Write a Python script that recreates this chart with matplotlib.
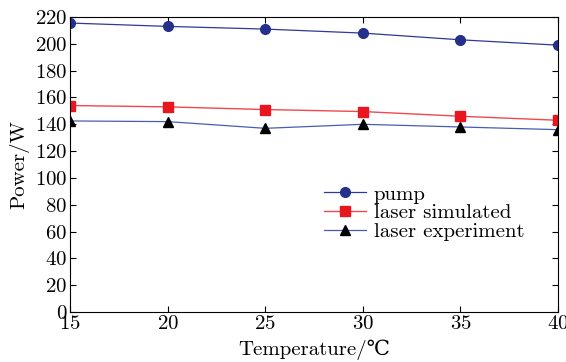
import matplotlib.pyplot as plt

# Data
temperature = [15, 20, 25, 30, 35, 40]
pump = [215.5, 213, 211, 208, 203, 199]
laser_sim = [154, 153, 151, 149.5, 146, 143]
laser_exp = [142.5, 142, 137, 140, 138, 136]

plt.rcParams['font.family'] = ['cmr10', 'DejaVu Serif']
plt.rcParams['axes.formatter.use_mathtext'] = True
plt.rcParams['mathtext.fontset'] = 'cm'

fig = plt.figure(figsize=(5.66, 3.62), dpi=100)
ax = fig.add_axes([0.124, 0.138, 0.862, 0.815])

ax.plot(temperature, pump, color='#2e3a96', lw=0.9, marker='o', ms=7,
        mfc='#25308a', mec='#25308a', label='pump')
ax.plot(temperature, laser_sim, color='#f0484e', lw=1.0, marker='s', ms=7,
        mfc='#e8161f', mec='#e8161f', label='laser simulated')
ax.plot(temperature, laser_exp, color='#4a5cb0', lw=0.9, marker='^', ms=7.5,
        mfc='black', mec='black', label='laser experiment')

ax.set_xlim(15, 40)
ax.set_ylim(0, 220)
ax.set_xticks(range(15, 41, 5))
ax.set_yticks(range(0, 221, 20))
ax.tick_params(direction='in', top=True, right=True, labelsize=15, length=4, pad=2)
ax.set_xlabel('Temperature/\u2103', fontsize=15, labelpad=5)
ax.set_ylabel('Power/W', fontsize=15, labelpad=4)

ax.legend(loc='upper left', bbox_to_anchor=(0.52, 0.43), frameon=False,
          fontsize=15, handlelength=2.0, handletextpad=0.4, labelspacing=0.0,
          borderpad=0, borderaxespad=0)

plt.savefig('out.png')
plt.close()
